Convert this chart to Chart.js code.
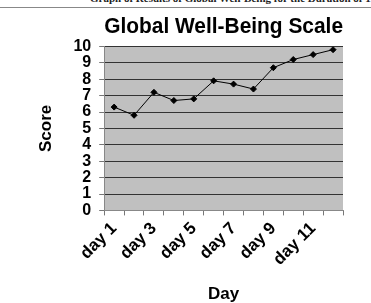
<!DOCTYPE html>
<html>
<head>
<meta charset="utf-8">
<script src="https://cdn.jsdelivr.net/npm/chart.js@4"></script>
<style>
  html, body { margin: 0; padding: 0; background: #fff; overflow: hidden; }
  #wrap { position: relative; width: 371px; height: 303px; }
  #header {
    position: absolute; left: 90px; top: -8px; white-space: nowrap;
    font-family: "Liberation Serif", serif; font-weight: bold; font-size: 11px; color: #222;
  }
  #rule { position: absolute; left: 0; top: 7px; width: 371px; height: 1px; background: #888; }
  #scoreChart { position: absolute; left: 0; top: 0; }
</style>
</head>
<body>
<div id="wrap">
  <div id="header">Graph of Results of Global Well-Being for the Duration of 1</div>
  <div id="rule"></div>
  <canvas id="scoreChart" width="371" height="303"></canvas>
</div>
<script>
// Global Well-Being scores, one per day
const day_labels = ['day 1', 'day 2', 'day 3', 'day 4', 'day 5', 'day 6',
                    'day 7', 'day 8', 'day 9', 'day 10', 'day 11', 'day 12']
const score_values = [6.3, 5.8, 7.2, 6.7, 6.8, 7.9, 7.7, 7.4, 8.7, 9.2, 9.5, 9.8]
const y_ticks = [0, 1, 2, 3, 4, 5, 6, 7, 8, 9, 10]

// grey plot background
const plotBg = {
  id: 'plotBg',
  beforeDraw(chart) {
    const {ctx, chartArea} = chart
    ctx.save()
    ctx.fillStyle = '#c0c0c0'
    ctx.fillRect(chartArea.left, chartArea.top, chartArea.right - chartArea.left, chartArea.bottom - chartArea.top)
    ctx.restore()
  }
}

const font_family = '"Liberation Sans", Arial, sans-serif'
const ctx = document.getElementById('scoreChart').getContext('2d');

let chart = new Chart(ctx, {type: 'line',
  data: {labels: day_labels,
    datasets: [
      {
        label: 'Score',
        data: score_values,
        borderColor: '#000',
        borderWidth: 1,
        pointStyle: 'rectRot',
        pointRadius: 3,
        pointBackgroundColor: '#000',
        pointBorderColor: '#000',
        tension: 0
      }]
  },
  options: {
    responsive: false,
    animation: false,
    layout: {padding: {top: 14, right: 28, bottom: -2, left: 36}},
    plugins: {
      legend: {display: false},
      tooltip: {enabled: false},
      title: {
        display: true,
        fullSize: false,
        text: 'Global Well-Being Scale',
        color: '#000',
        font: {family: font_family, size: 22, weight: 'bold'},
        padding: {top: 0, bottom: 6}
      }
    },
    scales: {
      x: {
        type: 'category',
        offset: true,
        grid: {offset: true, drawOnChartArea: false, drawTicks: true, tickLength: 5, color: '#777'},
        border: {color: '#888'},
        ticks: {
          autoSkip: false,
          maxRotation: 45,
          minRotation: 45,
          color: '#000',
          font: {family: font_family, size: 17, weight: 'bold'},
          callback: function (value, index) {
            return index % 2 === 0 ? this.getLabelForValue(value) : ''
          }
        },
        title: {
          display: true,
          text: 'Day',
          color: '#000',
          font: {family: font_family, size: 17, weight: 'bold'},
          padding: {top: 12, bottom: 0}
        }
      },
      y: {
        min: 0,
        max: 10,
        afterBuildTicks: axis => { axis.ticks = y_ticks.map(v => ({value: v})) },
        grid: {color: '#333', tickLength: 5, tickColor: '#777'},
        border: {color: '#888'},
        ticks: {
          autoSkip: false,
          color: '#000',
          padding: 8,
          font: {family: font_family, size: 16, weight: 'bold'}
        },
        title: {
          display: true,
          text: 'Score',
          color: '#000',
          font: {family: font_family, size: 17, weight: 'bold'},
          padding: {top: 0, bottom: 9}
        }
      }
    }
  },
  plugins: [plotBg]
});
</script>
</body>
</html>
